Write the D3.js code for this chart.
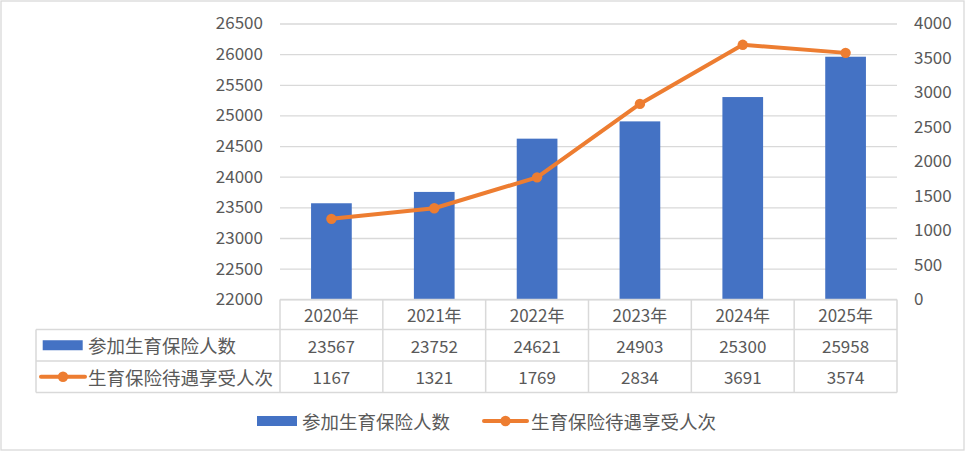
<!DOCTYPE html>
<html><head><meta charset="utf-8">
<script src="https://cdn.jsdelivr.net/npm/d3@7"></script>
<style>
html,body{margin:0;padding:0;background:#fff;}
svg{display:block;font-family:"Noto Sans CJK SC","Noto Sans",sans-serif;}
</style></head>
<body><svg id="c" width="966" height="452"></svg>
<script>
const categories = ["2020年","2021年","2022年","2023年","2024年","2025年"];
const participants = [23567,23752,24621,24903,25300,25958];
const beneficiaries = [1167,1321,1769,2834,3691,3574];
const seriesNames = ["参加生育保险人数","生育保险待遇享受人次"];
const leftTicks = [22000,22500,23000,23500,24000,24500,25000,25500,26000,26500];
const rightTicks = [0,500,1000,1500,2000,2500,3000,3500,4000];

const svg = d3.select("#c");
const textColor = "#595959", gridColor = "#d9d9d9";
const blue = "#4472c4", orange = "#ed7d31";
const L = 280, R = 897, T = 23.5, B = 299.3;

svg.append("rect").attr("x",1).attr("y",1).attr("width",963).attr("height",449)
  .attr("fill","#fff").attr("stroke",gridColor).attr("stroke-width",1.3);

const x = d3.scaleBand().domain(categories).range([L,R]).paddingInner(0).paddingOuter(0);
const yL = d3.scaleLinear().domain([22000,26500]).range([B,T]);
const yR = d3.scaleLinear().domain([0,4000]).range([B,T]);

// gridlines
const gridAxis = d3.axisLeft(yL).tickValues(leftTicks).tickSize(-(R-L)).tickFormat("");
const g = svg.append("g").attr("transform",`translate(${L},0)`).call(gridAxis);
g.select(".domain").remove();
g.selectAll("line").attr("stroke",gridColor).attr("stroke-width",1.3);

// left axis labels
const la = svg.append("g").attr("transform",`translate(${L},0)`)
  .call(d3.axisLeft(yL).tickValues(leftTicks).tickSize(0).tickPadding(17).tickFormat(d3.format("d")));
la.select(".domain").remove();
la.selectAll("text").attr("fill",textColor).style("font-size","17px").style("font-family","'Noto Sans CJK SC'");

// right axis labels
const ra = svg.append("g").attr("transform",`translate(${R},0)`)
  .call(d3.axisRight(yR).tickValues(rightTicks).tickSize(0).tickPadding(17).tickFormat(d3.format("d")));
ra.select(".domain").remove();
ra.selectAll("text").attr("fill",textColor).style("font-size","17px").style("font-family","'Noto Sans CJK SC'");

// bars
const bw = 40.7;
svg.append("g").selectAll("rect").data(participants).join("rect")
  .attr("x",(d,i)=>x(categories[i])+x.bandwidth()/2-bw/2)
  .attr("width",bw)
  .attr("y",d=>yL(d))
  .attr("height",d=>B-yL(d))
  .attr("fill",blue);

// line
const pts = beneficiaries.map((d,i)=>[x(categories[i])+x.bandwidth()/2, yR(d)]);
svg.append("path").attr("d",d3.line()(pts))
  .attr("fill","none").attr("stroke",orange).attr("stroke-width",4).attr("stroke-linecap","round").attr("stroke-linejoin","round");
svg.append("g").selectAll("circle").data(pts).join("circle")
  .attr("cx",d=>d[0]).attr("cy",d=>d[1]).attr("r",5.2).attr("fill",orange);

// data table
const tb = svg.append("g");
const rowY = [299.5,329.5,361,392.5];
const tl = 36;
const lineAttr = s => s.attr("stroke",gridColor).attr("stroke-width",1.5);
tb.append("line").attr("x1",L).attr("x2",R).attr("y1",rowY[0]).attr("y2",rowY[0]).call(lineAttr);
[1,2,3].forEach(k=>tb.append("line").attr("x1",tl).attr("x2",R).attr("y1",rowY[k]).attr("y2",rowY[k]).call(lineAttr));
categories.forEach((c,i)=>tb.append("line").attr("x1",x(c)).attr("x2",x(c)).attr("y1",rowY[0]).attr("y2",rowY[3]).call(lineAttr));
tb.append("line").attr("x1",R).attr("x2",R).attr("y1",rowY[0]).attr("y2",rowY[3]).call(lineAttr);
tb.append("line").attr("x1",tl).attr("x2",tl).attr("y1",rowY[1]).attr("y2",rowY[3]).call(lineAttr);

const cellText = (txt,cx,cy,anchor,size)=>tb.append("text").attr("x",cx).attr("y",cy)
  .attr("text-anchor",anchor||"middle").attr("dominant-baseline","central")
  .attr("fill",textColor).style("font-size",(size||17)+"px").text(txt);
categories.forEach((c,i)=>{
  const cx = x(c)+x.bandwidth()/2;
  cellText(c,cx,(rowY[0]+rowY[1])/2,"middle",17);
  cellText(participants[i],cx,(rowY[1]+rowY[2])/2);
  cellText(beneficiaries[i],cx,(rowY[2]+rowY[3])/2);
});
const r1y=(rowY[1]+rowY[2])/2, r2y=(rowY[2]+rowY[3])/2;
tb.append("rect").attr("x",42.7).attr("y",r1y-5).attr("width",40).attr("height",10).attr("fill",blue);
cellText(seriesNames[0],88,r1y,"start",18.5);
tb.append("line").attr("x1",41).attr("x2",85).attr("y1",r2y).attr("y2",r2y).attr("stroke",orange).attr("stroke-width",4).attr("stroke-linecap","round");
tb.append("circle").attr("cx",63).attr("cy",r2y).attr("r",5.2).attr("fill",orange);
cellText(seriesNames[1],88,r2y,"start",18.5);

// bottom legend
const ly = 421;
svg.append("rect").attr("x",257).attr("y",ly-5).attr("width",40).attr("height",10).attr("fill",blue);
svg.append("text").attr("x",302).attr("y",ly).attr("dominant-baseline","central").attr("fill",textColor).style("font-size","18.5px").text(seriesNames[0]);
svg.append("line").attr("x1",484).attr("x2",527).attr("y1",ly).attr("y2",ly).attr("stroke",orange).attr("stroke-width",4).attr("stroke-linecap","round");
svg.append("circle").attr("cx",505.5).attr("cy",ly).attr("r",5.2).attr("fill",orange);
svg.append("text").attr("x",531).attr("y",ly).attr("dominant-baseline","central").attr("fill",textColor).style("font-size","18.5px").text(seriesNames[1]);
</script></body></html>
